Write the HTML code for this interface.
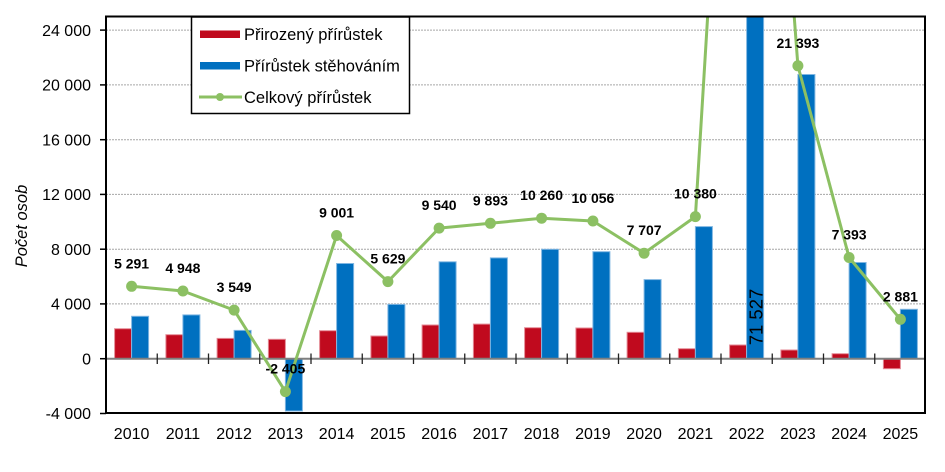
<!DOCTYPE html>
<html><head><meta charset="utf-8"><style>
html,body{margin:0;padding:0;background:#fff;}
svg{display:block;}
text{font-family:"Liberation Sans",Arial,sans-serif;}
</style></head><body>
<svg width="945" height="472" viewBox="0 0 945 472" xmlns="http://www.w3.org/2000/svg">
<defs>
<clipPath id="pc"><rect x="106" y="16.5" width="819" height="396.5"/></clipPath>
</defs>
<rect width="945" height="472" fill="#fff"/>
<!-- gridlines -->
<g stroke="#a6a6a6" stroke-width="1" stroke-dasharray="2,1">
<line x1="106" x2="925" y1="30.1" y2="30.1"/>
<line x1="106" x2="925" y1="84.9" y2="84.9"/>
<line x1="106" x2="925" y1="139.7" y2="139.7"/>
<line x1="106" x2="925" y1="194.4" y2="194.4"/>
<line x1="106" x2="925" y1="249.2" y2="249.2"/>
<line x1="106" x2="925" y1="303.9" y2="303.9"/>
</g>
<!-- bars -->
<g clip-path="url(#pc)" stroke-width="1">
<g fill="#C00A1E" stroke="#e48a95">
<rect x="114.6" y="328.7" width="17" height="30"/>
<rect x="165.9" y="334.7" width="17" height="24"/>
<rect x="217.1" y="338.4" width="17" height="20.3"/>
<rect x="268.4" y="339.3" width="17" height="19.4"/>
<rect x="319.6" y="330.7" width="17" height="28"/>
<rect x="370.9" y="336.0" width="17" height="22.7"/>
<rect x="422.1" y="325.0" width="17" height="33.7"/>
<rect x="473.4" y="324.1" width="17" height="34.6"/>
<rect x="524.6" y="327.7" width="17" height="31"/>
<rect x="575.9" y="328.0" width="17" height="30.7"/>
<rect x="627.1" y="332.3" width="17" height="26.4"/>
<rect x="678.4" y="348.7" width="17" height="10"/>
<rect x="729.6" y="345.0" width="17" height="13.7"/>
<rect x="780.9" y="350.0" width="17" height="8.7"/>
<rect x="832.1" y="353.7" width="17" height="5"/>
<rect x="883.4" y="358.7" width="17" height="10"/>
</g>
<g fill="#0070C0" stroke="#7fb6e2">
<rect x="131.6" y="316.3" width="17" height="42.4"/>
<rect x="182.9" y="314.9" width="17" height="43.8"/>
<rect x="234.1" y="330.4" width="17" height="28.3"/>
<rect x="285.4" y="358.7" width="17" height="52.3"/>
<rect x="336.6" y="263.5" width="17" height="95.2"/>
<rect x="387.9" y="304.4" width="17" height="54.3"/>
<rect x="439.1" y="261.8" width="17" height="96.9"/>
<rect x="490.4" y="257.9" width="17" height="100.8"/>
<rect x="541.6" y="249.3" width="17" height="109.4"/>
<rect x="592.9" y="251.7" width="17" height="107"/>
<rect x="644.1" y="279.6" width="17" height="79.1"/>
<rect x="695.4" y="226.6" width="17" height="132.1"/>
<rect x="746.6" y="10" width="17" height="348.7"/>
<rect x="797.9" y="74.5" width="17" height="284.2"/>
<rect x="849.1" y="262.5" width="17" height="96.2"/>
<rect x="900.4" y="309.3" width="17" height="49.4"/>
</g>
</g>
<!-- zero line -->
<line x1="106" x2="925" y1="358.7" y2="358.7" stroke="#7f7f7f" stroke-width="2"/>
<g stroke="#222" stroke-width="1.3">
<line x1="157.25" x2="157.25" y1="353.5" y2="364"/>
<line x1="208.5" x2="208.5" y1="353.5" y2="364"/>
<line x1="259.75" x2="259.75" y1="353.5" y2="364"/>
<line x1="311" x2="311" y1="353.5" y2="364"/>
<line x1="362.25" x2="362.25" y1="353.5" y2="364"/>
<line x1="413.5" x2="413.5" y1="353.5" y2="364"/>
<line x1="464.75" x2="464.75" y1="353.5" y2="364"/>
<line x1="516" x2="516" y1="353.5" y2="364"/>
<line x1="567.25" x2="567.25" y1="353.5" y2="364"/>
<line x1="618.5" x2="618.5" y1="353.5" y2="364"/>
<line x1="669.75" x2="669.75" y1="353.5" y2="364"/>
<line x1="721" x2="721" y1="353.5" y2="364"/>
<line x1="772.25" x2="772.25" y1="353.5" y2="364"/>
<line x1="823.5" x2="823.5" y1="353.5" y2="364"/>
<line x1="874.75" x2="874.75" y1="353.5" y2="364"/>
</g>
<!-- rotated 2022 label -->
<text transform="translate(762.5,317) rotate(-90)" text-anchor="middle" font-size="18.5" fill="#000">71 527</text>
<!-- line -->
<g clip-path="url(#pc)">
<polyline fill="none" stroke="#8CC063" stroke-width="3" stroke-linejoin="round"
points="131.6,286.3 182.9,291.0 234.1,310.1 285.4,391.6 336.6,235.5 387.9,281.6 439.1,228.1 490.4,223.3 541.6,218.2 592.9,221.0 644.1,253.2 695.4,216.6 746.6,-620.5 797.9,65.8 849.1,257.5 900.4,319.3"/>
<g fill="#8CC063">
<circle cx="131.6" cy="286.3" r="5.5"/>
<circle cx="182.9" cy="291.0" r="5.5"/>
<circle cx="234.1" cy="310.1" r="5.5"/>
<circle cx="285.4" cy="391.6" r="5.5"/>
<circle cx="336.6" cy="235.5" r="5.5"/>
<circle cx="387.9" cy="281.6" r="5.5"/>
<circle cx="439.1" cy="228.1" r="5.5"/>
<circle cx="490.4" cy="223.3" r="5.5"/>
<circle cx="541.6" cy="218.2" r="5.5"/>
<circle cx="592.9" cy="221.0" r="5.5"/>
<circle cx="644.1" cy="253.2" r="5.5"/>
<circle cx="695.4" cy="216.6" r="5.5"/>
<circle cx="797.9" cy="65.8" r="5.5"/>
<circle cx="849.1" cy="257.5" r="5.5"/>
<circle cx="900.4" cy="319.3" r="5.5"/>
</g>
</g>
<!-- data labels -->
<g font-size="14" font-weight="bold" text-anchor="middle" fill="#000">
<text x="131.6" y="268.3">5 291</text>
<text x="182.9" y="273.0">4 948</text>
<text x="234.1" y="292.1">3 549</text>
<text x="285.4" y="373.6">-2 405</text>
<text x="336.6" y="217.5">9 001</text>
<text x="387.9" y="263.6">5 629</text>
<text x="439.1" y="210.1">9 540</text>
<text x="490.4" y="205.3">9 893</text>
<text x="541.6" y="200.2">10 260</text>
<text x="592.9" y="203.0">10 056</text>
<text x="644.1" y="235.2">7 707</text>
<text x="695.4" y="198.6">10 380</text>
<text x="797.9" y="47.8">21 393</text>
<text x="849.1" y="239.5">7 393</text>
<text x="900.4" y="301.3">2 881</text>
</g>
<!-- plot border -->
<rect x="106" y="16.5" width="819" height="396.5" fill="none" stroke="#000" stroke-width="2"/>
<!-- y axis ticks -->
<g stroke="#000" stroke-width="1.5">
<line x1="100" x2="106" y1="30.1" y2="30.1"/>
<line x1="100" x2="106" y1="84.9" y2="84.9"/>
<line x1="100" x2="106" y1="139.7" y2="139.7"/>
<line x1="100" x2="106" y1="194.4" y2="194.4"/>
<line x1="100" x2="106" y1="249.2" y2="249.2"/>
<line x1="100" x2="106" y1="303.9" y2="303.9"/>
<line x1="100" x2="106" y1="358.7" y2="358.7"/>
<line x1="100" x2="106" y1="413.5" y2="413.5"/>
</g>
<!-- y labels -->
<g font-size="16" text-anchor="end" fill="#000">
<text x="91" y="35.8">24 000</text>
<text x="91" y="90.6">20 000</text>
<text x="91" y="145.4">16 000</text>
<text x="91" y="200.1">12 000</text>
<text x="91" y="254.9">8 000</text>
<text x="91" y="309.6">4 000</text>
<text x="91" y="364.4">0</text>
<text x="91" y="419.2">-4 000</text>
</g>
<text transform="translate(27,226) rotate(-90)" text-anchor="middle" font-size="16.5" font-style="italic" fill="#000">Počet osob</text>
<!-- x labels -->
<g font-size="16" text-anchor="middle" fill="#000">
<text x="131.6" y="439">2010</text>
<text x="182.9" y="439">2011</text>
<text x="234.1" y="439">2012</text>
<text x="285.4" y="439">2013</text>
<text x="336.6" y="439">2014</text>
<text x="387.9" y="439">2015</text>
<text x="439.1" y="439">2016</text>
<text x="490.4" y="439">2017</text>
<text x="541.6" y="439">2018</text>
<text x="592.9" y="439">2019</text>
<text x="644.1" y="439">2020</text>
<text x="695.4" y="439">2021</text>
<text x="746.6" y="439">2022</text>
<text x="797.9" y="439">2023</text>
<text x="849.1" y="439">2024</text>
<text x="900.4" y="439">2025</text>
</g>
<!-- legend -->
<rect x="191.5" y="17" width="218" height="96.5" fill="#fff" stroke="#000" stroke-width="1.5"/>
<rect x="200" y="30.5" width="40" height="7.5" fill="#C00A1E"/>
<rect x="200" y="62" width="40" height="7.5" fill="#0070C0"/>
<line x1="199" x2="242" y1="97" y2="97" stroke="#8CC063" stroke-width="3"/>
<circle cx="220" cy="97" r="4" fill="#8CC063"/>
<g font-size="16.5" fill="#000">
<text x="244" y="40">Přirozený přírůstek</text>
<text x="244" y="71.5">Přírůstek stěhováním</text>
<text x="244" y="103">Celkový přírůstek</text>
</g>
</svg>
</body></html>
